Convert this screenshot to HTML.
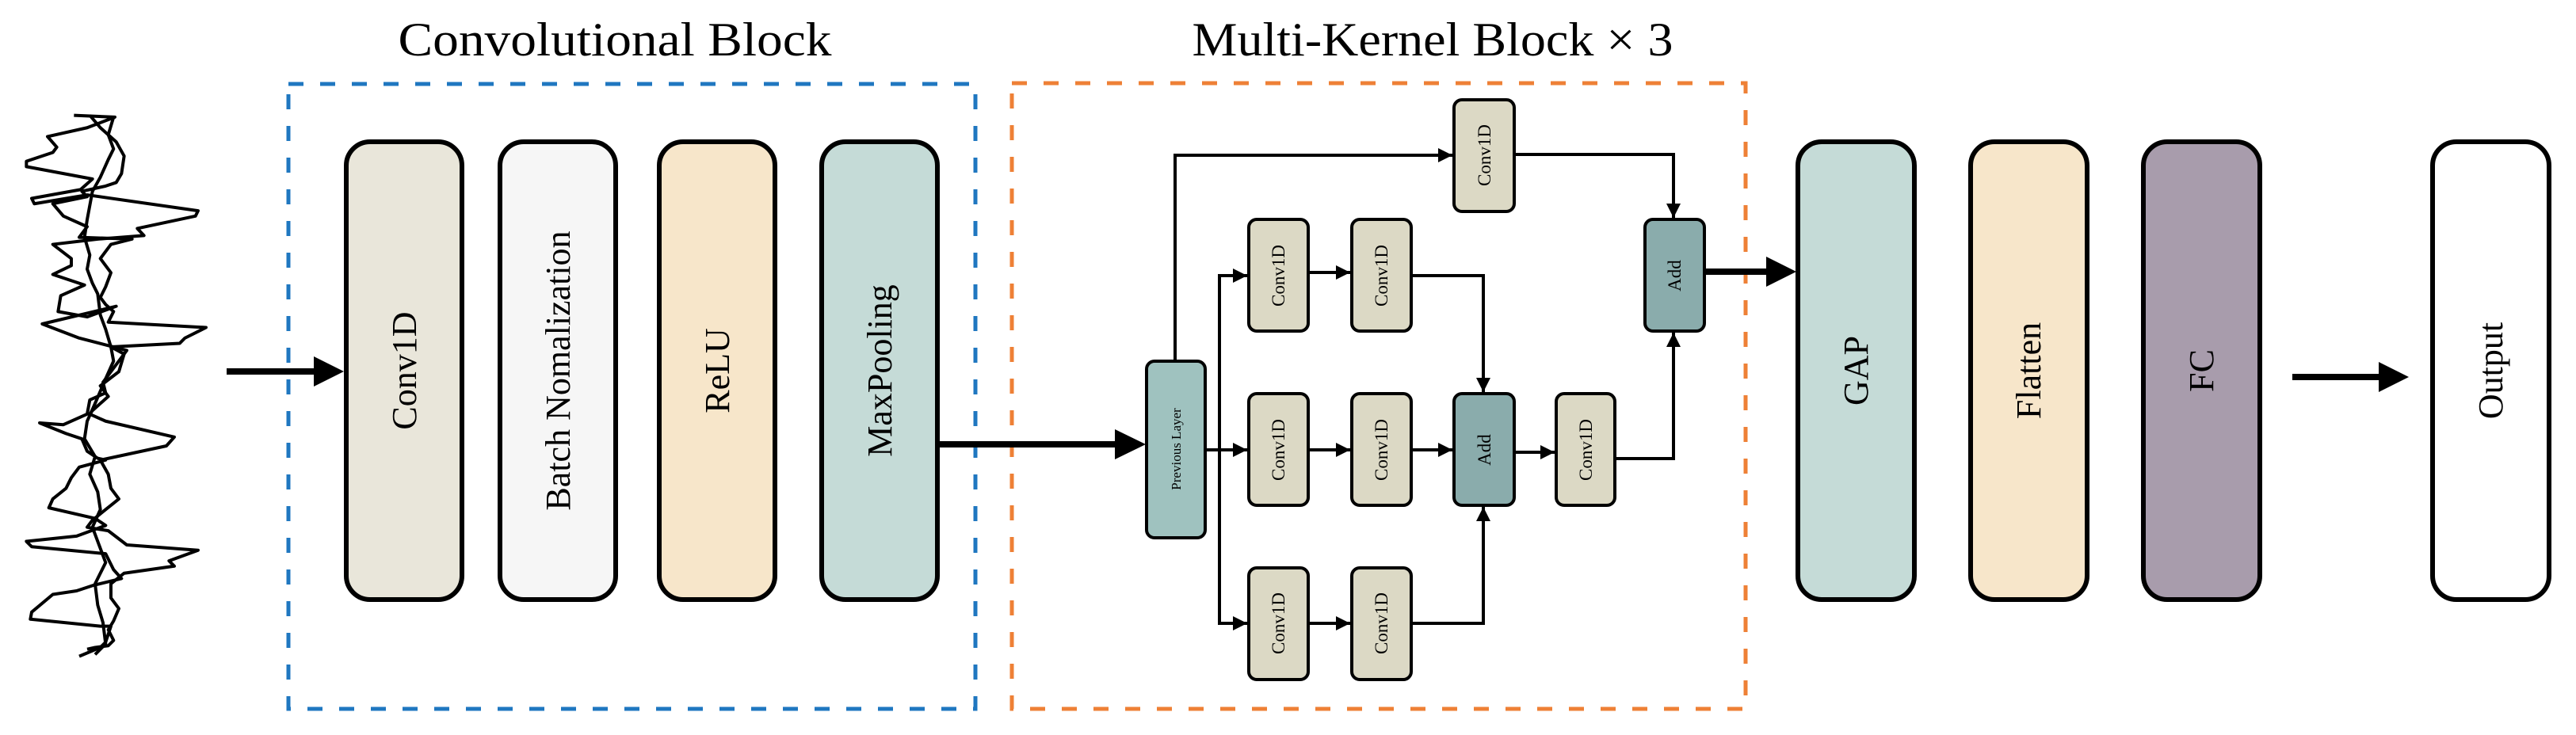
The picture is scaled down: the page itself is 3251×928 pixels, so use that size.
<!DOCTYPE html>
<html><head><meta charset="utf-8"><style>
html,body{margin:0;padding:0;background:#fff;}
svg{display:block;}
text{font-family:"Liberation Serif",serif;fill:#000;}
</style></head><body>
<svg width="3251" height="928" viewBox="0 0 3251 928" xmlns="http://www.w3.org/2000/svg">
<defs>
<marker id="ah" viewBox="0 0 10 10" refX="10" refY="5" markerWidth="18" markerHeight="18" markerUnits="userSpaceOnUse" orient="auto"><path d="M0,0 L10,5 L0,10 z" fill="#000"/></marker>
</defs>
<!-- titles -->
<text x="776" y="70" font-size="60" text-anchor="middle" textLength="547" lengthAdjust="spacingAndGlyphs">Convolutional Block</text>
<text x="1808" y="70" font-size="60" text-anchor="middle" textLength="607" lengthAdjust="spacingAndGlyphs">Multi-Kernel Block × 3</text>
<!-- dashed boxes -->
<rect x="364" y="106" width="867" height="789" fill="none" stroke="#1f77c0" stroke-width="5" stroke-dasharray="19,21"/>
<rect x="1277" y="105" width="926" height="790" fill="none" stroke="#ee8036" stroke-width="5" stroke-dasharray="19,21"/>
<!-- signal -->
<g transform="translate(0,130) scale(0.3333,0.4464)" fill="none" stroke="#000" stroke-width="4" stroke-linejoin="round">
<polyline vector-effect="non-scaling-stroke" points="280,35 435,40 330,70 180,95 215,125 200,140 100,165 100,180 350,215 305,245 120,270 130,285 330,260 750,305 740,320 520,355 545,375 370,385 200,400 270,440 270,460 200,485 320,515 230,545 220,590 330,605 440,575 160,625 300,665 430,690 480,700 440,740 390,790 400,820 340,840 330,880 240,910 150,905 250,935 310,950 330,985 370,1005 400,1010 300,1030 270,1060 250,1090 200,1120 185,1145 360,1175 400,1195 290,1225 100,1240 120,1255 400,1275 430,1320 460,1345 350,1365 290,1380 200,1390 120,1440 115,1460 380,1480 420,1480 400,1525 380,1540 300,1565"/>
<polyline vector-effect="non-scaling-stroke" points="340,35 380,70 440,110 470,150 460,200 440,225 400,235 310,250 330,265 200,285 240,320 330,350 300,380 500,385 420,400 380,440 420,480 400,520 380,550 400,570 430,590 410,620 780,635 700,665 680,680 420,690 470,710 450,760 380,800 410,830 350,870 340,880 400,900 660,945 630,970 380,1010 410,1050 420,1090 450,1120 400,1150 350,1180 330,1200 410,1210 480,1250 750,1265 640,1295 660,1310 470,1330 420,1360 420,1400 450,1430 430,1465 410,1490 430,1520 410,1535 360,1540 330,1545"/>
<polyline vector-effect="non-scaling-stroke" points="430,40 410,90 430,130 410,160 380,210 350,250 330,330 320,380 340,430 330,470 350,510 370,540 380,600 400,640 420,690 430,730 400,780 360,850 330,900 320,950 360,1000 340,1050 370,1100 380,1150 350,1200 380,1260 400,1300 360,1360 370,1420 390,1470 400,1530 360,1560"/>
</g>
<!-- input arrow -->
<line x1="286" y1="469" x2="400" y2="469" stroke="#000" stroke-width="8"/>
<path d="M396,450 L434,469 L396,488 z" fill="#000"/>
<!-- conv block boxes -->
<g stroke="#000" stroke-width="6">
<rect x="437" y="179" width="146" height="578" rx="30" fill="#e9e6da"/>
<rect x="631" y="179" width="146" height="578" rx="30" fill="#f6f6f6"/>
<rect x="832" y="179" width="146" height="578" rx="30" fill="#f7e6ca"/>
<rect x="1037" y="179" width="146" height="578" rx="30" fill="#c5dbd7"/>
<rect x="2269" y="179" width="147" height="578" rx="30" fill="#c5dbd7"/>
<rect x="2487" y="179" width="147" height="578" rx="30" fill="#f7e6ca"/>
<rect x="2705" y="179" width="147" height="578" rx="30" fill="#a89cac"/>
<rect x="3070" y="179" width="147" height="578" rx="30" fill="#ffffff"/>
</g>
<g font-size="44" text-anchor="middle">
<text transform="translate(510,468) rotate(-90)" dy="15">Conv1D</text>
<text transform="translate(704,468) rotate(-90)" dy="15">Batch Nomalization</text>
<text transform="translate(905,468) rotate(-90)" dy="15">ReLU</text>
<text transform="translate(1110,468) rotate(-90)" dy="15">MaxPooling</text>
<text transform="translate(2342,468) rotate(-90)" dy="15">GAP</text>
<text transform="translate(2560,468) rotate(-90)" dy="15">Flatten</text>
<text transform="translate(2778,468) rotate(-90)" dy="15">FC</text>
<text transform="translate(3143,468) rotate(-90)" dy="15">Output</text>
</g>
<!-- MaxPooling -> Previous layer -->
<line x1="1183" y1="561" x2="1410" y2="561" stroke="#000" stroke-width="8"/>
<path d="M1407,542 L1446,561 L1407,580 z" fill="#000"/>
<!-- Add -> GAP -->
<line x1="2151" y1="343" x2="2232" y2="343" stroke="#000" stroke-width="8"/>
<path d="M2229,324 L2267,343 L2229,362 z" fill="#000"/>
<!-- FC -> Output -->
<line x1="2893" y1="476" x2="3005" y2="476" stroke="#000" stroke-width="8"/>
<path d="M3002,457 L3040,476 L3002,495 z" fill="#000"/>
<!-- inner connectors -->
<g fill="none" stroke="#000" stroke-width="4">
<polyline points="1483,456 1483,196 1833,196" marker-end="url(#ah)"/>
<line x1="1521" y1="568" x2="1574" y2="568" marker-end="url(#ah)"/>
<polyline points="1574,348 1539,348 1539,787 1574,787" marker-end="url(#ah)"/>
<line x1="1539" y1="348" x2="1574" y2="348" marker-end="url(#ah)"/>
<line x1="1651" y1="344" x2="1704" y2="344" marker-end="url(#ah)"/>
<line x1="1651" y1="568" x2="1704" y2="568" marker-end="url(#ah)"/>
<line x1="1651" y1="787" x2="1704" y2="787" marker-end="url(#ah)"/>
<polyline points="1781,348 1872,348 1872,495" marker-end="url(#ah)"/>
<polyline points="1781,787 1872,787 1872,640" marker-end="url(#ah)"/>
<line x1="1781" y1="568" x2="1833" y2="568" marker-end="url(#ah)"/>
<line x1="1911" y1="571" x2="1962" y2="571" marker-end="url(#ah)"/>
<polyline points="1911,195 2112,195 2112,275" marker-end="url(#ah)"/>
<polyline points="2038,579 2112,579 2112,420" marker-end="url(#ah)"/>
</g>
<!-- inner boxes -->
<g stroke="#000" stroke-width="4">
<rect x="1447" y="456" width="74" height="223" rx="10" fill="#9fc2bf"/>
<rect x="1835" y="126" width="76" height="141" rx="10" fill="#dcd9c5"/>
<rect x="1576" y="277" width="75" height="141" rx="10" fill="#dcd9c5"/>
<rect x="1706" y="277" width="75" height="141" rx="10" fill="#dcd9c5"/>
<rect x="1576" y="497" width="75" height="141" rx="10" fill="#dcd9c5"/>
<rect x="1706" y="497" width="75" height="141" rx="10" fill="#dcd9c5"/>
<rect x="1576" y="717" width="75" height="141" rx="10" fill="#dcd9c5"/>
<rect x="1706" y="717" width="75" height="141" rx="10" fill="#dcd9c5"/>
<rect x="1835" y="497" width="76" height="141" rx="10" fill="#8aacac"/>
<rect x="1964" y="497" width="74" height="141" rx="10" fill="#dcd9c5"/>
<rect x="2076" y="277" width="75" height="141" rx="10" fill="#8aacac"/>
</g>
<g font-size="23" text-anchor="middle">
<text transform="translate(1873,196) rotate(-90)" dy="8">Conv1D</text>
<text transform="translate(1613,348) rotate(-90)" dy="8">Conv1D</text>
<text transform="translate(1743,348) rotate(-90)" dy="8">Conv1D</text>
<text transform="translate(1613,568) rotate(-90)" dy="8">Conv1D</text>
<text transform="translate(1743,568) rotate(-90)" dy="8">Conv1D</text>
<text transform="translate(1613,787) rotate(-90)" dy="8">Conv1D</text>
<text transform="translate(1743,787) rotate(-90)" dy="8">Conv1D</text>
<text transform="translate(1873,568) rotate(-90)" dy="8">Add</text>
<text transform="translate(2001,568) rotate(-90)" dy="8">Conv1D</text>
<text transform="translate(2113,348) rotate(-90)" dy="8">Add</text>
<text transform="translate(1484,567) rotate(-90)" dy="6" font-size="17">Previous Layer</text>
</g>
</svg>
</body></html>
